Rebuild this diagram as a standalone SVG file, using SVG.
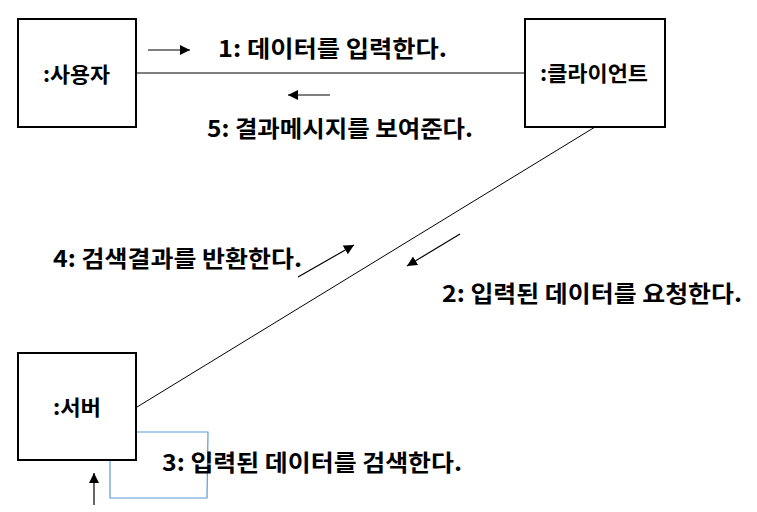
<svg xmlns="http://www.w3.org/2000/svg" width="757" height="512" viewBox="0 0 757 512">
<style>
.node{fill:#fff;stroke:#000;stroke-width:2}
.lbl{font-family:"Noto Sans CJK KR","Liberation Sans",sans-serif;font-weight:bold;font-size:23px;fill:#000}
.nm{font-family:"Noto Sans CJK KR","Liberation Sans",sans-serif;font-weight:bold;font-size:21px;fill:#000}
.ln{stroke:#000;stroke-width:1;fill:none}
.ar{stroke:#000;stroke-width:1.2;fill:none;marker-end:url(#ah)}
</style>
<defs>
<marker id="ah" viewBox="0 0 10 10" refX="10" refY="5" markerWidth="10" markerHeight="10" markerUnits="userSpaceOnUse" orient="auto">
<path d="M0,0 L10,5 L0,10 z" fill="#000"/>
</marker>
</defs>
<rect width="757" height="512" fill="#fff"/>
<g id="connectors">
<line class="ln" x1="137" y1="73" x2="525" y2="73"/>
<line class="ln" x1="137" y1="407" x2="595" y2="127"/>
<polyline points="137,432 208,432 207,498 110,498 110,461" fill="none" stroke="#5B9BD5" stroke-width="1.2"/>
<line class="ar" x1="148" y1="50" x2="190" y2="50"/>
<line class="ar" x1="330" y1="95" x2="288" y2="95"/>
<line class="ar" x1="298" y1="277" x2="354" y2="245"/>
<line class="ar" x1="460" y1="234" x2="407" y2="266"/>
<line class="ar" x1="94" y1="505" x2="94" y2="473"/>
</g>
<g id="user">
<rect class="node" x="18" y="19" width="118" height="108"/>
<text class="nm" x="43" y="82" textLength="67" lengthAdjust="spacingAndGlyphs">:사용자</text>
</g>
<g id="client">
<rect class="node" x="525" y="19" width="140" height="108"/>
<text class="nm" x="540" y="81" textLength="108" lengthAdjust="spacingAndGlyphs">:클라이언트</text>
</g>
<g id="server">
<rect class="node" x="18" y="353" width="118" height="107"/>
<text class="nm" x="53" y="415" textLength="48" lengthAdjust="spacingAndGlyphs">:서버</text>
</g>
<g id="labels">
<text class="lbl" x="218" y="57" textLength="229" lengthAdjust="spacingAndGlyphs">1: 데이터를 입력한다.</text>
<text class="lbl" x="207" y="137" textLength="266" lengthAdjust="spacingAndGlyphs">5: 결과메시지를 보여준다.</text>
<text class="lbl" x="53" y="267" textLength="249" lengthAdjust="spacingAndGlyphs">4: 검색결과를 반환한다.</text>
<text class="lbl" x="442" y="302" textLength="300" lengthAdjust="spacingAndGlyphs">2: 입력된 데이터를 요청한다.</text>
<text class="lbl" x="162" y="471" textLength="300" lengthAdjust="spacingAndGlyphs">3: 입력된 데이터를 검색한다.</text>
</g>
</svg>
